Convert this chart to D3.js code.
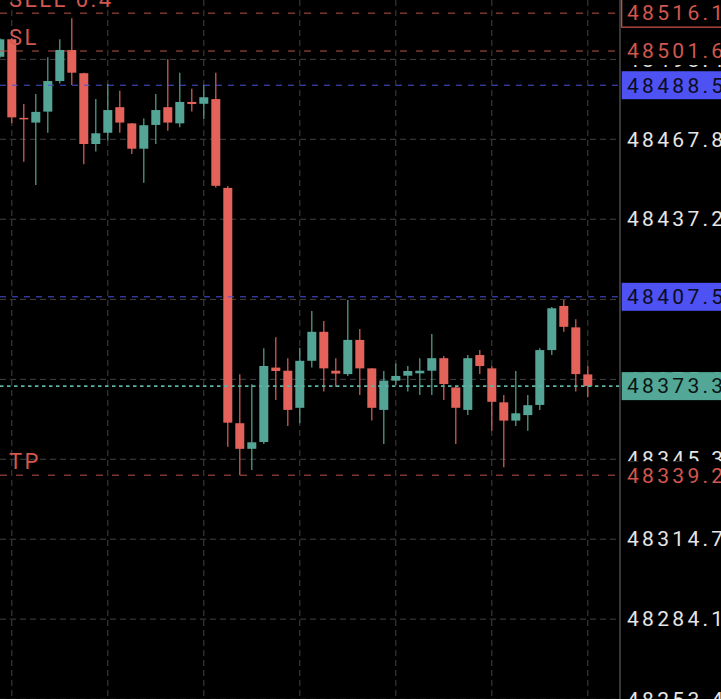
<!DOCTYPE html>
<html>
<head>
<meta charset="utf-8">
<script src="https://cdn.jsdelivr.net/npm/d3@7"></script>
<style>
  html, body { margin: 0; padding: 0; background: #000; overflow: hidden; }
  svg { display: block; }
</style>
</head>
<body>
<svg id="chart" width="721" height="699"></svg>
<script>
// ---------------- DATA ----------------
const opens = [48499.4,48506.1,48476.0,48474.2,48478.4,48490.1,48502.0,48493.1,48466.0,48470.3,
  48480.1,48473.9,48464.2,48473.3,48480.1,48473.9,48482.1,48481.4,48483.2,48449.2,
  48359.1,48349.3,48351.9,48380.4,48379.2,48365.0,48383.0,48394.1,48379.2,48377.9,
  48391.0,48380.1,48364.2,48375.4,48377.3,48378.2,48379.2,48384.0,48372.8,48364.2,
  48385.2,48380.1,48367.1,48360.1,48362.2,48366.1,48387.1,48404.0,48395.8,48377.8];
const highs = [48506.6,48506.6,48481.3,48485.1,48499.2,48506.1,48514.1,48493.3,48483.2,48489.0,
  48486.4,48474.0,48475.8,48485.1,48498.4,48493.3,48487.2,48488.6,48493.3,48449.9,
  48377.8,48374.0,48387.8,48392.0,48384.0,48388.0,48402.1,48398.2,48384.0,48406.3,
  48395.2,48380.1,48379.1,48382.0,48381.0,48384.0,48393.3,48384.8,48373.3,48385.2,
  48387.1,48381.0,48369.9,48379.1,48369.9,48387.8,48403.6,48406.3,48398.9,48381.0];
const lows = [48498.9,48473.9,48459.2,48450.3,48470.3,48489.2,48488.6,48458.2,48463.1,48467.3,
  48470.3,48462.2,48451.2,48466.0,48471.1,48472.4,48478.4,48475.5,48449.3,48350.1,
  48339.2,48341.2,48351.1,48368.0,48358.0,48359.1,48380.4,48371.2,48373.1,48377.2,
  48369.9,48360.1,48351.1,48373.7,48371.2,48369.9,48369.9,48368.0,48351.1,48362.2,
  48377.9,48356.2,48342.2,48358.0,48356.2,48364.2,48385.2,48394.1,48371.2,48369.0];
const closes = [48506.1,48476.2,48475.5,48478.3,48490.1,48502.0,48493.3,48466.0,48470.1,48479.0,
  48474.2,48464.2,48473.2,48479.0,48474.2,48482.1,48481.3,48483.9,48450.0,48359.3,
  48349.3,48351.8,48381.0,48379.1,48364.2,48383.0,48394.1,48380.1,48378.1,48391.0,
  48380.1,48365.0,48375.4,48377.2,48379.1,48379.2,48384.0,48374.1,48365.0,48384.0,
  48381.0,48367.3,48360.1,48362.9,48366.0,48387.1,48403.1,48396.0,48377.9,48373.3];
const candleIndex = d3.range(opens.length);

// price-axis tick labels
const tickValues = [48498.4,48467.8,48437.2,48406.5,48375.9,48345.3,48314.7,48284.1,48253.4];
// vertical grid at these candle indices
const timeGridIndex = [1,9,17,25,33,41,49];

// order / marker levels
const sellLevel = 48516.1, sellText = "SELL 0.4";
const slLevel = 48501.6, slText = "SL";
const tpLevel = 48339.2, tpText = "TP";
const blueLevels = [48488.5, 48407.5];
const lastPrice = 48373.3;

// ---------------- SCALES ----------------
const W = 721, H = 699, plotRight = 620;
const y = d3.scaleLinear().domain([48253.4, 48467.8]).range([699.3, 139.3]);
const x = d3.scaleLinear().domain([0, 49]).range([-0.2, 587.8]);

const RED = "#e3625a", TEAL = "#55a596";
const LINE_RED = "#b9524b", LINE_BLUE = "#4c50dc", LINE_TEAL = "#5cb3a3";
const LABEL_RED = "#d2574e", BOX_BLUE = "#4e52f2", BOX_TEAL = "#53a797";
const GRID = "#424242";
const FONT = "Roboto, 'Open Sans', sans-serif";
const LS = "3.3px";

const svg = d3.select("#chart");
svg.append("rect").attr("width", W).attr("height", H).attr("fill", "#000");

// ---------------- GRID ----------------
const grid = svg.append("g");
grid.selectAll("line.h").data(tickValues).join("line")
  .attr("x1", 0).attr("x2", plotRight)
  .attr("y1", d => y(d)).attr("y2", d => y(d))
  .attr("stroke", GRID).attr("stroke-width", 1).attr("stroke-dasharray", "6,4");
grid.selectAll("line.v").data(timeGridIndex).join("line")
  .attr("x1", d => x(d)).attr("x2", d => x(d))
  .attr("y1", 0).attr("y2", H)
  .attr("stroke", GRID).attr("stroke-width", 1).attr("stroke-dasharray", "6,4");

// ---------------- CANDLES ----------------
const cg = svg.append("g");
const col = i => closes[i] >= opens[i] ? TEAL : RED;
cg.selectAll("line.wick").data(candleIndex).join("line")
  .attr("x1", i => x(i)).attr("x2", i => x(i))
  .attr("y1", i => y(highs[i])).attr("y2", i => y(lows[i]))
  .attr("stroke", col).attr("stroke-width", 1.2);
const bodyW = 9;
cg.selectAll("rect.body").data(candleIndex).join("rect")
  .attr("x", i => x(i) - bodyW / 2)
  .attr("width", bodyW)
  .attr("y", i => y(Math.max(opens[i], closes[i])))
  .attr("height", i => Math.max(1.5, Math.abs(y(opens[i]) - y(closes[i]))))
  .attr("fill", col);

// ---------------- LEVEL LINES ----------------
const lg = svg.append("g");
[sellLevel, slLevel, tpLevel].forEach(v => {
  lg.append("line").attr("x1", 0).attr("x2", plotRight)
    .attr("y1", y(v)).attr("y2", y(v))
    .attr("stroke", LINE_RED).attr("stroke-width", 1).attr("stroke-dasharray", "7,9");
});
blueLevels.forEach(v => {
  lg.append("line").attr("x1", 0).attr("x2", plotRight)
    .attr("y1", y(v)).attr("y2", y(v))
    .attr("stroke", LINE_BLUE).attr("stroke-width", 1).attr("stroke-dasharray", "6,6");
});
lg.append("line").attr("x1", 0).attr("x2", plotRight)
  .attr("y1", y(lastPrice)).attr("y2", y(lastPrice))
  .attr("stroke", LINE_TEAL).attr("stroke-width", 1.6).attr("stroke-dasharray", "3.5,3.5");

// level texts (left)
[[sellLevel, sellText], [slLevel, slText], [tpLevel, tpText]].forEach(([v, t]) => {
  lg.append("text").attr("x", 9).attr("y", y(v) - 6)
    .attr("fill", LABEL_RED).attr("font-family", FONT).attr("font-size", 22)
    .attr("letter-spacing", "2.4px").text(t);
});

// ---------------- PRICE AXIS ----------------
const axis = d3.axisRight(y).tickValues(tickValues).tickFormat(d => d.toFixed(1))
  .tickSize(0).tickSizeOuter(0).tickPadding(7);
const ag = svg.append("g").attr("transform", `translate(${plotRight},0)`).call(axis);
ag.select(".domain").remove();
ag.selectAll("text").attr("fill", "#e6e6e6").attr("font-family", FONT)
  .attr("font-size", 21).attr("letter-spacing", LS);
svg.append("line").attr("x1", plotRight).attr("x2", plotRight).attr("y1", 0).attr("y2", H)
  .attr("stroke", "#4a4a4a").attr("stroke-width", 1.5);

// ---------------- PRICE LABELS ----------------
const boxH = 28;
function priceLabel(v, opt) {
  const g = svg.append("g");
  g.append("rect").attr("x", plotRight + 1.7).attr("y", y(v) - boxH / 2)
    .attr("width", W - plotRight + 5).attr("height", boxH)
    .attr("fill", opt.fill).attr("stroke", opt.stroke || "none").attr("stroke-width", 1.2);
  g.append("text").attr("x", plotRight + 7).attr("y", y(v)).attr("dy", "0.35em")
    .attr("fill", opt.color).attr("font-family", FONT).attr("font-size", 21)
    .attr("letter-spacing", LS).text(v.toFixed(1));
}
priceLabel(sellLevel, { fill: "#000", stroke: LABEL_RED, color: LABEL_RED });
priceLabel(slLevel, { fill: "#000", color: LABEL_RED });
blueLevels.forEach(v => priceLabel(v, { fill: BOX_BLUE, color: "#0c0c22" }));
priceLabel(lastPrice, { fill: BOX_TEAL, color: "#0a1512" });
priceLabel(tpLevel, { fill: "#000", color: LABEL_RED });
</script>
</body>
</html>
